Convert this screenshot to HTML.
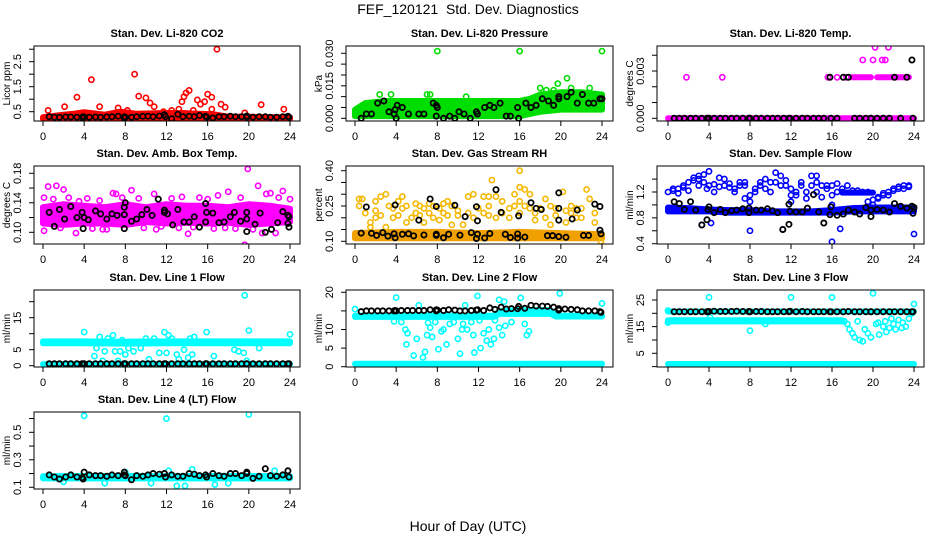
<!DOCTYPE html>
<html><head><meta charset="utf-8"><style>
html,body{margin:0;padding:0;background:#fff;}
svg{display:block;font-family:"Liberation Sans",Arial,sans-serif;}
</style></head><body>
<svg id="chart" width="936" height="540" viewBox="0 0 936 540" xmlns="http://www.w3.org/2000/svg">
<rect width="936" height="540" fill="#fff"/>
<text x="468" y="14" text-anchor="middle" font-size="14" style="white-space:pre">FEF_120121  Std. Dev. Diagnostics</text>
<text x="468" y="531" text-anchor="middle" font-size="14">Hour of Day (UTC)</text>
</svg>
<script>
// ---------- data ----------
const xTicks=[0,4,8,12,16,20,24];
const blackHours=[0.6,1.1,1.6,2.2,2.7,3.3,3.8,3.9,4.0,4.5,5.1,5.6,6.2,6.7,7.3,7.9,7.9,8.0,8.6,9.1,9.7,10.2,10.7,11.3,11.8,11.9,12.5,13.1,13.6,14.2,14.7,15.2,15.8,15.9,16.5,17.1,17.6,18.2,18.7,19.3,19.8,19.8,20.4,21.0,21.6,22.1,22.7,23.3,23.8,23.9];

// CO2
const co2BandHours=[0,2,3,4,6,7.5,9,12,13.5,15,16.5,18,20,22,24];
const co2BandLo=[0.22,0.22,0.22,0.22,0.22,0.22,0.22,0.22,0.22,0.22,0.22,0.21,0.21,0.21,0.21];
const co2BandHi=[0.28,0.38,0.42,0.48,0.38,0.5,0.42,0.45,0.45,0.42,0.4,0.3,0.3,0.28,0.28];
const co2Outliers=[[0.5,0.55],[2.1,0.7],[3.3,1.08],[4.7,1.78],[5.5,0.7],[7.3,0.65],[8.9,2.0],[9.3,1.12],[10.0,1.05],[10.4,0.85],[10.8,0.7],[13.5,0.9],[13.7,1.1],[13.9,1.25],[14.2,1.35],[15.0,0.97],[15.3,0.8],[15.7,0.9],[16.0,1.2],[16.4,1.08],[16.4,0.6],[16.9,3.0],[17.3,0.8],[17.7,0.68],[19.6,0.45],[21.2,0.78],[23.4,0.6],[11.7,0.5],[12.5,0.55],[13.2,0.6],[14.6,0.55],[8.2,0.55]];
const co2Black=[0.3,0.28,0.28,0.29,0.29,0.28,0.27,0.3,0.29,0.28,0.29,0.28,0.29,0.3,0.32,0.25,0.3,0.28,0.28,0.3,0.32,0.32,0.3,0.33,0.38,0.3,0.22,0.4,0.3,0.32,0.3,0.35,0.32,0.28,0.25,0.3,0.3,0.32,0.3,0.3,0.33,0.28,0.28,0.3,0.3,0.28,0.28,0.3,0.32,0.28];

// Pressure
const presBandHours=[0,1,3,8,12,15,16,17,18,20,22,24];
const presBandLo=[0.001,0.001,0.001,0.001,0.001,0.001,0.001,0.002,0.003,0.004,0.004,0.004];
const presBandHi=[0.004,0.007,0.008,0.008,0.008,0.008,0.008,0.009,0.011,0.012,0.012,0.011];
const presOutliers=[[8,0.031],[16,0.031],[24,0.031],[2.4,0.011],[3.5,0.011],[7,0.011],[7.3,0.011],[10.8,0.01],[19.7,0.016],[20.6,0.0185],[21,0.014],[22.8,0.014],[18,0.014],[18.6,0.013],[19.3,0.013]];
const presBlack=[[0.6,0.0],[1.1,0.002],[1.6,0.002],[2.2,0.007],[2.8,0.008],[3.3,0.003],[3.8,0.002],[3.9,0.004],[4.0,0.0],[4.1,0.006],[4.6,0.005],[5.2,0.002],[6.2,0.002],[6.7,0.002],[7.6,0.007],[7.9,0.001],[7.9,0.006],[8.0,0.005],[8.6,0.0],[9.2,0.001],[9.7,0.0],[10.1,0.003],[10.6,0.002],[11.2,0.0],[11.8,0.003],[11.9,0.002],[12.6,0.005],[13.1,0.006],[13.5,0.005],[14.1,0.007],[14.7,0.001],[15.1,0.001],[15.8,0.005],[15.9,0.0],[16.6,0.007],[17.1,0.005],[17.6,0.006],[18.2,0.009],[18.8,0.008],[19.3,0.006],[19.8,0.009],[19.8,0.010],[20.6,0.010],[21.0,0.012],[21.6,0.007],[22.1,0.011],[22.7,0.007],[23.2,0.007],[23.8,0.009],[24,0.009]];

// Li-820 temp
const tempBandHours=[0,24];
const tempBandVals=[0,0];
const tempHighBandHours=[17.9,19.8];
const tempHighBandVals=[0.0026,0.0026];
const tempHighBand2Hours=[20.4,23.5];
const tempHighBand2Vals=[0.0026,0.0026];
const tempOutliers=[[1.8,0.0026],[5.3,0.0026],[15.6,0.0026],[16.5,0.0026],[17.4,0.0026],[19.0,0.0037],[20.0,0.0037],[20.2,0.0045],[20.9,0.0037],[21.2,0.0037],[21.5,0.0045]];
const tempBlack=[0,0,0,0,0,0,0,0,0,0,0,0,0,0,0,0,0,0,0,0,0,0,0,0,0,0,0,0,0,0,0,0,0.0026,0,0,0.0026,0.0026,0,0,0,0,0,0,0,0,0.0026,0,0.0026,0.0037,0];

// Amb box temp
const ambBandHours=[0,2,4,6,8,10,12,14,16,18,20,22,24];
const ambBandLo=[0.112,0.11,0.112,0.112,0.11,0.114,0.112,0.113,0.112,0.113,0.11,0.112,0.114];
const ambBandHi=[0.134,0.138,0.136,0.134,0.138,0.134,0.138,0.136,0.136,0.134,0.138,0.136,0.132];
const ambOutliers=[[0.1,0.102],[0.1,0.147],[0.5,0.162],[1.3,0.163],[2.0,0.158],[3.2,0.099],[4.8,0.105],[6.8,0.153],[7.1,0.152],[8.6,0.157],[9.8,0.106],[10.8,0.152],[11.0,0.104],[14.1,0.098],[14.6,0.107],[16.6,0.105],[17.0,0.150],[18.0,0.155],[19.6,0.083],[19.9,0.186],[20.9,0.163],[21.3,0.099],[22.6,0.099],[23.3,0.156],[24,0.145],[21.7,0.152],[22.1,0.153],[1.0,0.145],[2.5,0.147],[3.5,0.142],[4.3,0.146],[5.5,0.143],[6.2,0.104],[7.7,0.147],[9.3,0.146],[12.5,0.146],[13.5,0.148],[15.2,0.147],[16.0,0.145],[18.7,0.105],[19.2,0.147],[20.4,0.104],[22.9,0.147],[1.7,0.106],[5.8,0.104],[11.5,0.108],[13.2,0.106],[17.7,0.106]];
const ambBlack=[[0.6,0.127],[1.1,0.108],[1.6,0.131],[2.1,0.118],[2.7,0.135],[3.3,0.120],[3.8,0.127],[3.9,0.105],[4.0,0.120],[4.4,0.117],[5.1,0.129],[5.6,0.125],[6.2,0.118],[6.7,0.125],[7.2,0.123],[7.9,0.105],[7.9,0.134],[8.0,0.140],[7.9,0.124],[8.6,0.115],[9.1,0.118],[9.6,0.124],[10.1,0.131],[10.6,0.123],[11.2,0.145],[11.8,0.130],[11.8,0.127],[12.1,0.125],[12.6,0.110],[13.1,0.131],[13.7,0.114],[14.2,0.114],[14.7,0.121],[15.2,0.107],[15.8,0.139],[15.9,0.127],[15.8,0.114],[16.5,0.126],[17.1,0.113],[17.6,0.114],[18.2,0.121],[18.6,0.127],[19.2,0.115],[19.8,0.127],[19.8,0.118],[19.8,0.101],[20.6,0.111],[21.1,0.126],[21.6,0.100],[22.2,0.104],[22.8,0.113],[23.3,0.128],[23.8,0.123],[23.9,0.107],[23.8,0.112],[23.9,0.121]];

// Gas stream RH
const rhBandHours=[0,4,8,12,16,20,24];
const rhBandLo=[0.113,0.113,0.113,0.113,0.113,0.113,0.113];
const rhBandHi=[0.135,0.14,0.14,0.135,0.14,0.135,0.13];
const rhOutliers=[[0.4,0.28],[0.4,0.25],[0.7,0.28],[1.0,0.22],[1.5,0.18],[1.5,0.16],[2.0,0.27],[2.0,0.23],[2.0,0.2],[2.5,0.29],[2.5,0.21],[3.0,0.30],[3.0,0.16],[3.3,0.25],[3.7,0.24],[3.7,0.2],[4.2,0.21],[4.2,0.27],[4.6,0.29],[4.6,0.24],[5.0,0.25],[5.0,0.18],[5.5,0.20],[5.9,0.26],[5.9,0.22],[6.3,0.25],[6.3,0.21],[6.7,0.24],[6.7,0.18],[7.2,0.22],[7.2,0.26],[7.6,0.2],[7.6,0.25],[8.2,0.24],[8.2,0.19],[8.6,0.22],[8.6,0.26],[9.0,0.27],[9.0,0.21],[9.4,0.25],[9.4,0.17],[10,0.21],[10,0.23],[10.5,0.17],[11,0.29],[11,0.22],[11.5,0.30],[11.5,0.2],[12,0.24],[12.5,0.29],[12.5,0.22],[13,0.21],[13,0.25],[13,0.29],[13.3,0.36],[13.7,0.29],[13.7,0.2],[14.3,0.27],[14.3,0.22],[15,0.24],[15,0.2],[15.5,0.30],[15.5,0.25],[16,0.40],[16,0.33],[16,0.27],[16,0.22],[16.5,0.32],[16.5,0.25],[17,0.30],[17,0.24],[17.5,0.22],[17.5,0.19],[18,0.24],[18.5,0.28],[18.5,0.2],[19,0.25],[19,0.17],[19.5,0.21],[19.5,0.24],[20.2,0.31],[20.5,0.18],[20.5,0.23],[21,0.22],[21,0.25],[21.5,0.24],[21.5,0.2],[22,0.24],[22,0.2],[22.5,0.32],[22.8,0.28],[23.3,0.22],[23.3,0.18],[23.9,0.10]];
const rhBlack=[[0.6,0.135],[1.1,0.246],[1.6,0.134],[2.1,0.125],[2.7,0.137],[3.2,0.122],[3.8,0.132],[3.9,0.254],[3.9,0.115],[4.6,0.13],[5.2,0.132],[5.7,0.123],[6.2,0.19],[6.7,0.127],[7.3,0.28],[7.9,0.125],[7.9,0.248],[7.9,0.13],[8.6,0.115],[9.1,0.13],[9.7,0.253],[10.2,0.126],[10.7,0.205],[11.3,0.137],[11.8,0.247],[11.9,0.187],[11.8,0.112],[11.9,0.13],[12.6,0.114],[13.1,0.133],[13.7,0.319],[14.2,0.223],[14.6,0.13],[15.1,0.116],[15.8,0.131],[15.9,0.208],[15.8,0.114],[16.5,0.118],[17.1,0.264],[17.6,0.24],[18.1,0.235],[18.7,0.124],[19.2,0.124],[19.8,0.19],[19.8,0.24],[19.8,0.12],[19.8,0.306],[20.5,0.117],[21.1,0.195],[21.6,0.233],[22.2,0.125],[22.7,0.125],[23.3,0.258],[23.8,0.147],[23.9,0.132],[23.8,0.248]];

// Sample flow
const flowBandHours=[0,2,4,6,8,10,12,14,16,18,20,22,24];
const flowBandLo=[0.9,0.9,0.9,0.88,0.88,0.88,0.88,0.88,0.88,0.9,0.9,0.9,0.9];
const flowBandHi=[0.96,0.95,0.93,0.92,0.92,0.9,0.9,0.9,0.92,0.95,0.96,0.96,0.96];
const flowUpperBandHours=[17,20];
const flowUpperBandVals=[1.19,1.19];
const flowOutliers=[[0,1.2],[0.5,1.22],[0.5,1.25],[1,1.25],[1,1.18],[1.5,1.3],[1.5,1.27],[2,1.35],[2,1.22],[2.5,1.42],[2.5,1.38],[3,1.40],[3,1.30],[3,1.45],[3.5,1.47],[3.5,1.35],[3.8,1.25],[4,1.52],[4,1.3],[4.5,1.32],[4.5,1.2],[5,1.42],[5,1.28],[5.5,1.40],[5.5,1.3],[6,1.27],[6,1.33],[6.5,1.25],[6.5,1.2],[7,1.35],[7,1.3],[7.5,1.35],[7.5,1.3],[7.5,1.1],[8,1.05],[8,1.15],[8.5,1.25],[8.5,1.2],[9,1.3],[9,1.35],[9.5,1.4],[9.5,1.25],[10,1.35],[10,1.2],[10.5,1.5],[10.5,1.35],[11,1.45],[11,1.3],[11.5,1.38],[11.5,1.3],[12,1.15],[12,1.25],[12,1.05],[12.5,1.2],[12.5,1.15],[13,1.35],[13,1.3],[13.5,1.2],[13.5,1.1],[14,1.45],[14,1.3],[14.5,1.45],[14.5,1.35],[14.5,1.2],[15,1.3],[15,1.12],[15.5,1.3],[15.5,1.25],[16,1.3],[16,1.15],[16,1.0],[16.5,1.33],[16.5,1.2],[17,1.2],[17,1.25],[17.5,1.3],[18,1.22],[18.5,1.22],[19,1.2],[19.5,1.05],[19.5,1.2],[20,1.0],[20,1.08],[20.5,1.12],[20.5,1.1],[21,1.15],[21,1.18],[21.5,1.2],[21.5,1.15],[22,1.22],[22,1.25],[22.5,1.28],[22.5,1.25],[23,1.3],[23,1.25],[23.5,1.3],[23.5,1.28],[4.2,0.72],[8,0.6],[11.2,0.62],[16,0.43],[16.8,0.63],[24,0.55],[3.3,0.69]];
const flowBlack=[[0.6,1.05],[1.1,1.02],[1.6,0.93],[2.2,1.05],[2.7,0.92],[3.3,0.69],[3.8,0.77],[3.9,0.93],[4.0,0.97],[4.5,0.88],[5.1,0.93],[5.6,0.88],[6.2,0.91],[6.7,0.92],[7.3,0.94],[7.9,0.88],[7.9,0.95],[8.6,0.92],[9.1,0.92],[9.7,0.94],[10.2,0.91],[10.7,0.88],[11.2,0.62],[11.8,0.70],[11.8,1.01],[11.9,0.9],[12.5,0.89],[13.1,0.89],[13.6,0.95],[14.2,1.16],[14.7,0.89],[15.2,0.72],[15.8,0.85],[15.9,0.97],[16.5,0.84],[17.1,0.86],[17.6,0.92],[18.2,0.89],[18.7,0.86],[19.3,0.96],[19.8,0.92],[19.8,0.82],[20.4,0.93],[21.0,0.92],[21.6,0.89],[22.1,1.02],[22.7,0.98],[23.3,0.95],[23.8,0.98],[23.9,0.87],[24,0.96]];

// Line 1
const l1BandHours=[0,4,8,12,16,18,20,24];
const l1BandLo=[7.0,7.0,6.9,7.0,7.0,7.0,7.0,7.0];
const l1BandHi=[7.6,7.6,7.5,7.6,7.6,7.6,7.6,7.6];
const l1LowBandHours=[0,24];
const l1LowBandVals=[0.5,0.5];
const l1Outliers=[[4,10.5],[5,3],[5.2,5.5],[5.5,9],[5.8,1.5],[6,4.5],[6.3,8.5],[6.8,9.5],[7,4.5],[7.3,1.5],[7.5,4.5],[7.7,8],[8,3.5],[8.3,5.5],[8.8,4.5],[9.5,5.5],[10,8.5],[10.3,2],[10.8,8.5],[11.3,4],[11.8,10.5],[12,4],[12.2,9.5],[12.5,8.5],[13,3.5],[13.2,2],[13.7,5],[14.1,2.5],[14.3,8.5],[14.5,3.5],[14.7,9],[15.9,10.5],[16.6,3],[18.6,5],[19,4.5],[19.5,4],[19.6,22],[19.8,1.5],[20,11],[21,5.5],[24,9.8],[19.3,7.5]];
const l1Black=[0.6,0.6,0.6,0.6,0.6,0.6,0.6,0.6,0.6,0.6,0.6,0.6,0.6,0.6,0.6,0.6,0.6,0.6,0.6,0.6,0.6,0.6,0.6,0.6,0.6,0.6,0.6,0.6,0.6,0.6,0.6,0.6,0.6,0.6,0.6,0.6,0.6,0.6,0.6,0.6,0.6,0.6,0.6,0.6,0.6,0.6,0.6,0.6,0.6,0.6];

// Line 2
const l2BandHours=[0,13.5,14,16,19,19.5,24];
const l2BandLo=[13.4,13.4,14.2,14.2,14.2,13.5,13.5];
const l2BandHi=[13.7,13.7,14.9,15.2,15.2,13.7,13.7];
const l2LowBandHours=[0,24];
const l2LowBandVals=[0.8,0.8];
const l2Outliers=[[4,18.6],[4.5,12],[4.9,10],[5,6],[5.1,9],[5.7,3],[6,7.5],[6.2,16.5],[6.6,2.5],[6.8,4],[7,8.5],[7.1,11.8],[7.3,10.5],[7.5,8],[7.8,12],[8.1,4.7],[8.4,9.5],[8.6,10],[8.9,6],[9.2,11.5],[9.6,12],[10.0,7.5],[10.2,3.5],[10.4,10],[10.5,11.5],[10.7,16.5],[10.9,10],[11.3,12],[11.5,8.5],[11.6,3.8],[11.9,19],[12.1,12.5],[12.2,5],[12.5,9],[12.8,7],[13,10],[13.2,6],[13.5,7.5],[13.6,12.5],[14,10.5],[14.3,8.5],[14.6,11],[15.2,12],[16.1,18.5],[16.5,11.5],[16.7,8.5],[16.9,9.5],[19.9,19.7],[24,17],[14.5,17.5],[14,18],[4.3,13.5],[0,15.5],[3.8,12.2]];
const l2Black=[14.8,15,15,15,15,15,15,15.1,15,15.1,15.1,15.1,15.1,15.1,15.3,15.3,15,15.2,15.1,15.3,15.2,15,15,15.1,15.2,15.3,15.1,15.8,15.4,16,15.5,15.6,15.6,16.2,15.7,16.5,16.3,16.3,16.2,16,15.6,15.2,15.5,15.4,15.3,15,15,15,14.8,14.6];

// Line 3
const l3BandHours=[0,17];
const l3BandLo=[17.0,17.0];
const l3BandHi=[17.4,17.4];
const l3UpperBandHours=[0,24];
const l3UpperBandVals=[20.7,20.7];
const l3LowBandHours=[0,24];
const l3LowBandVals=[1.0,1.0];
const l3Outliers=[[4,26],[12,26],[16,26],[20,27.5],[8,13.5],[17.5,16],[17.7,14],[18,12.5],[18.2,11],[18.5,17],[18.7,10],[19,9.5],[19.2,14],[19.5,12.5],[19.8,11],[20.3,16],[20.6,12],[21,15],[21.3,13],[21.6,14.5],[22,16],[22.2,14],[22.5,17.5],[22.8,14.5],[23.2,15],[23.5,18],[23.8,20],[24,23.5],[21.8,18],[0,16.5],[0,21],[20.5,16.5],[21.2,17],[22.9,16.5],[17.2,17],[4.1,18.5],[9.5,16]];
const l3Black=[20.6,20.6,20.6,20.6,20.6,20.6,20.6,20.6,20.7,20.8,20.7,20.7,20.7,20.8,20.7,20.6,20.7,20.6,20.7,20.7,20.6,20.6,20.6,20.6,20.6,20.8,20.6,20.7,20.6,20.6,20.6,20.6,20.6,20.6,20.6,20.6,20.7,20.6,20.6,20.6,20.6,20.6,20.6,20.6,20.6,20.6,20.6,20.6,20.6,20.6];

// Line 4
const l4BandHours=[0,4,8,12,16,20,24];
const l4BandLo=[0.165,0.165,0.165,0.165,0.165,0.165,0.165];
const l4BandHi=[0.18,0.182,0.182,0.18,0.182,0.182,0.18];
const l4Outliers=[[4,0.62],[12,0.6],[20,0.63],[13,0.11],[13.8,0.11],[16.7,0.12],[14.5,0.23],[12.2,0.22],[2,0.14],[6,0.13],[10.5,0.13],[18,0.13],[22.5,0.22],[8,0.21]];
const l4Black=[0.19,0.175,0.16,0.175,0.19,0.175,0.17,0.16,0.21,0.19,0.185,0.185,0.18,0.19,0.185,0.19,0.21,0.185,0.155,0.185,0.18,0.19,0.2,0.195,0.2,0.175,0.19,0.18,0.18,0.2,0.195,0.185,0.19,0.175,0.2,0.185,0.18,0.2,0.2,0.185,0.2,0.21,0.165,0.18,0.235,0.185,0.18,0.19,0.22,0.175];

// tick arrays
const co2Ticks=[0.5,1,1.5,2,2.5,3], co2TickLabels=["0.5","","1.5","","2.5",""];
const presTicks=[0,0.005,0.01,0.015,0.02,0.025,0.03], presTickLabels=["0.000","","","0.015","","","0.030"];
const tempTicks=[0,0.001,0.002,0.003,0.004], tempTickLabels=["0.000","","","0.003",""];
const ambTicks=[0.10,0.12,0.14,0.16,0.18], ambTickLabels=["0.10","","0.14","","0.18"];
const rhTicks=[0.10,0.15,0.20,0.25,0.30,0.35,0.40], rhTickLabels=["0.10","","","0.25","","","0.40"];
const flowTicks=[0.4,0.6,0.8,1.0,1.2,1.4], flowTickLabels=["0.4","","0.8","","1.2",""];
const l1Ticks=[0,5,10,15,20], l1TickLabels=["0","5","","15",""];
const l2Ticks=[0,5,10,15,20], l2TickLabels=["0","5","10","","20"];
const l3Ticks=[0,5,10,15,20,25], l3TickLabels=["","5","","15","","25"];
const l4Ticks=[0.1,0.2,0.3,0.4,0.5,0.6], l4TickLabels=["0.1","","0.3","","0.5",""];

// ---------- layout ----------
const NS="http://www.w3.org/2000/svg";
const svg=document.getElementById('chart');
const cols=[{l:34,r:300,x0:43,x24:290},{l:346,r:613,x0:355,x24:602},{l:657,r:924,x0:668,x24:914}];
const rows=[{t:46,b:121},{t:166,b:244},{t:290,b:367},{t:412,b:489}];
function el(tag,attrs,parent){const e=document.createElementNS(NS,tag);for(const k in attrs)e.setAttribute(k,attrs[k]);(parent||svg).appendChild(e);return e;}
let clipId=0;

function panel(o){
  const c=cols[o.col], r=rows[o.row];
  const g=el('g',{});
  
  
  const xs=h=>c.x0+(c.x24-c.x0)*h/24;
  const ys=v=>o.yr[1]+(v-o.yr[0])*(o.yr[3]-o.yr[1])/(o.yr[2]-o.yr[0]);
  const t=el('text',{x:(c.l+c.r)/2,y:r.t-9,'text-anchor':'middle','font-size':11,'font-weight':'bold'},g);
  t.textContent=o.title;
  
  
  const cp=el('clipPath',{id:'cp'+(++clipId)},g);
  el('rect',{x:c.l,y:r.t,width:c.r-c.l,height:r.b-r.t},cp);
  const plot=el('g',{'clip-path':'url(#cp'+clipId+')'},g);
  
  
  (o.bands||[]).forEach(b=>{
    const pts=[];
    b.h.forEach((h,i)=>pts.push(xs(h)+','+ys(b.hi[i])));
    for(let i=b.h.length-1;i>=0;i--)pts.push(xs(b.h[i])+','+ys(b.lo[i]));
    const p=el('polygon',{points:pts.join(' '),fill:b.color,stroke:b.color,'stroke-width':6,'stroke-linejoin':'round'},plot);
    
    
  });
  (o.pts||[]).forEach(s=>{
    s.data.forEach(d=>{
      const ci=el('circle',{cx:xs(d[0]),cy:ys(d[1]),r:2.6,fill:'none',stroke:s.color,'stroke-width':1.6},plot);
      
      
    });
  });
  if(o.black){
    o.black.forEach(d=>{
      const ci=el('circle',{cx:xs(d[0]),cy:ys(d[1]),r:2.6,fill:'none',stroke:'#000','stroke-width':1.8},plot);
      
      
    });
  }
  const box=el('rect',{x:c.l,y:r.t,width:c.r-c.l,height:r.b-r.t,fill:'none',stroke:'#000','stroke-width':1},g);
  
  
  const xa=el('g',{},g);
  
  
  el('line',{x1:xs(0),x2:xs(24),y1:r.b,y2:r.b,stroke:'#000'},xa);
  xTicks.forEach(v=>{
    el('line',{x1:xs(v),x2:xs(v),y1:r.b,y2:r.b+5,stroke:'#000'},xa);
    const tl=el('text',{x:xs(v),y:r.b+19,'text-anchor':'middle','font-size':11},xa);
    tl.textContent=v;
    
    
  });
  const ya=el('g',{},g);
  
  
  el('line',{x1:c.l,x2:c.l,y1:ys(o.ticks[0]),y2:ys(o.ticks[o.ticks.length-1]),stroke:'#000'},ya);
  o.ticks.forEach((v,i)=>{
    const y=ys(v);
    el('line',{x1:c.l-5,x2:c.l,y1:y,y2:y,stroke:'#000'},ya);
    if(o.labels[i]){
      const tl=el('text',{x:0,y:0,'text-anchor':'middle','font-size':11,transform:`translate(${c.l-13},${y}) rotate(-90)`},ya);
      tl.textContent=o.labels[i];
      
      
    }
  });
  const yt=el('text',{x:0,y:0,'text-anchor':'middle','font-size':10,transform:`translate(${c.l-24},${(r.t+r.b)/2}) rotate(-90)`},ya);
  yt.textContent=o.ylab;
  
  
}
const zip=(hs,vs)=>hs.map((h,i)=>[h,vs[i]]);

panel({name:'co2',title:'Stan. Dev. Li-820 CO2',ylab:'Licor ppm',col:0,row:0,yr:[0.5,111.7,2.5,61.7],ticks:co2Ticks,labels:co2TickLabels,
  bands:[{h:co2BandHours,lo:co2BandLo,hi:co2BandHi,color:'#ff0000'}],pts:[{data:co2Outliers,color:'#ff0000'}],black:zip(blackHours,co2Black)});
panel({name:'pressure',title:'Stan. Dev. Li-820 Pressure',ylab:'kPa',col:1,row:0,yr:[0,118.3,0.03,53.3],ticks:presTicks,labels:presTickLabels,
  bands:[{h:presBandHours,lo:presBandLo,hi:presBandHi,color:'#00dd00'}],pts:[{data:presOutliers,color:'#00dd00'}],black:presBlack});
panel({name:'li820-temp',title:'Stan. Dev. Li-820 Temp.',ylab:'degrees C',col:2,row:0,yr:[0,118.3,0.003,71],ticks:tempTicks,labels:tempTickLabels,
  bands:[{h:tempBandHours,lo:tempBandVals,hi:tempBandVals,color:'#ff00ff'},{h:tempHighBandHours,lo:tempHighBandVals,hi:tempHighBandVals,color:'#ff00ff'},{h:tempHighBand2Hours,lo:tempHighBand2Vals,hi:tempHighBand2Vals,color:'#ff00ff'}],
  pts:[{data:tempOutliers,color:'#ff00ff'}],black:zip(blackHours,tempBlack)});
panel({name:'amb-box-temp',title:'Stan. Dev. Amb. Box Temp.',ylab:'degrees C',col:0,row:1,yr:[0.10,232.3,0.18,173.3],ticks:ambTicks,labels:ambTickLabels,
  bands:[{h:ambBandHours,lo:ambBandLo,hi:ambBandHi,color:'#ff00ff'}],pts:[{data:ambOutliers,color:'#ff00ff'}],black:ambBlack});
panel({name:'gas-rh',title:'Stan. Dev. Gas Stream RH',ylab:'percent',col:1,row:1,yr:[0.10,241.3,0.40,170.7],ticks:rhTicks,labels:rhTickLabels,
  bands:[{h:rhBandHours,lo:rhBandLo,hi:rhBandHi,color:'#f0a000'}],pts:[{data:rhOutliers,color:'#f5b800'}],black:rhBlack});
panel({name:'sample-flow',title:'Stan. Dev. Sample Flow',ylab:'ml/min',col:2,row:1,yr:[0.4,243.7,1.2,192],ticks:flowTicks,labels:flowTickLabels,
  bands:[{h:flowBandHours,lo:flowBandLo,hi:flowBandHi,color:'#0000ff'},{h:flowUpperBandHours,lo:flowUpperBandVals,hi:flowUpperBandVals,color:'#0000ff'}],pts:[{data:flowOutliers,color:'#0000ff'}],black:flowBlack});
panel({name:'line1-flow',title:'Stan. Dev. Line 1 Flow',ylab:'ml/min',col:0,row:2,yr:[0,365.7,15,317.7],ticks:l1Ticks,labels:l1TickLabels,
  bands:[{h:l1BandHours,lo:l1BandLo,hi:l1BandHi,color:'#00ffff'},{h:l1LowBandHours,lo:l1LowBandVals,hi:l1LowBandVals,color:'#00ffff'}],pts:[{data:l1Outliers,color:'#00ffff'}],black:zip(blackHours,l1Black)});
panel({name:'line2-flow',title:'Stan. Dev. Line 2 Flow',ylab:'ml/min',col:1,row:2,yr:[0,366.7,20,292.3],ticks:l2Ticks,labels:l2TickLabels,
  bands:[{h:l2BandHours,lo:l2BandLo,hi:l2BandHi,color:'#00ffff'},{h:l2LowBandHours,lo:l2LowBandVals,hi:l2LowBandVals,color:'#00ffff'}],pts:[{data:l2Outliers,color:'#00ffff'}],black:zip(blackHours,l2Black)});
panel({name:'line3-flow',title:'Stan. Dev. Line 3 Flow',ylab:'ml/min',col:2,row:2,yr:[5,353.3,25,300],ticks:l3Ticks,labels:l3TickLabels,
  bands:[{h:l3BandHours,lo:l3BandLo,hi:l3BandHi,color:'#00ffff'},{h:l3UpperBandHours,lo:l3UpperBandVals,hi:l3UpperBandVals,color:'#00ffff'},{h:l3LowBandHours,lo:l3LowBandVals,hi:l3LowBandVals,color:'#00ffff'}],pts:[{data:l3Outliers,color:'#00ffff'}],black:zip(blackHours,l3Black)});
panel({name:'line4-flow',title:'Stan. Dev. Line 4 (LT) Flow',ylab:'ml/min',col:0,row:3,yr:[0.1,487.3,0.5,432.3],ticks:l4Ticks,labels:l4TickLabels,
  bands:[{h:l4BandHours,lo:l4BandLo,hi:l4BandHi,color:'#00ffff'}],pts:[{data:l4Outliers,color:'#00ffff'}],black:zip(blackHours,l4Black)});
</script>
</body></html>
